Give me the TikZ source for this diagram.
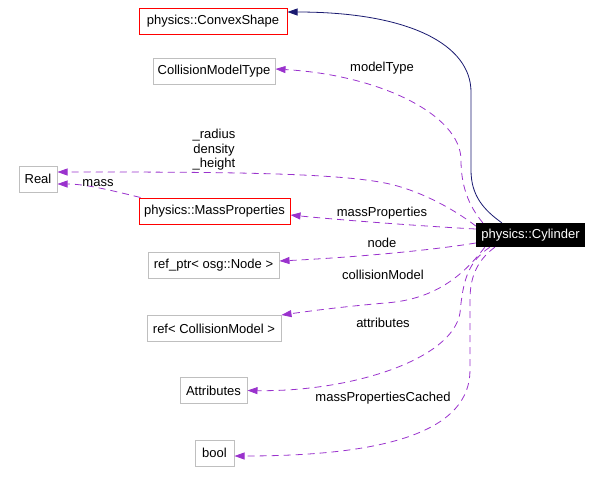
\documentclass[tikz,border=0pt]{standalone}
\usepackage{fontspec}
\setmainfont{Liberation Sans}
\usetikzlibrary{arrows.meta}
\definecolor{inherit}{HTML}{191970}
\definecolor{usage}{HTML}{9A32CD}
\definecolor{boxgray}{HTML}{BFBFBF}
\tikzset{
  member/.style={draw=boxgray, line width=1pt, minimum height=26, inner sep=0pt, font=\fontsize{13}{14.5}\selectfont},
  docclass/.style={member, draw=red},
  current/.style={fill=black, text=white, minimum height=24, inner sep=0pt, font=\fontsize{13}{14.5}\selectfont},
  uses/.style={usage, line width=0.8pt, dash pattern=on 7pt off 5pt, -{Triangle[length=10pt,width=7pt]}},
  derives/.style={inherit, line width=0.8pt, -{Triangle[length=10pt,width=7pt]}},
  lbl/.style={font=\fontsize{13}{14.5}\selectfont, inner sep=0pt, align=center}
}
\begin{document}
\begin{tikzpicture}[x=1pt, y=-1pt]
  \useasboundingbox (0,0) rectangle (603,483);

  % Clases
  \node[docclass, minimum width=148] (convex) at (213,21) {physics::ConvexShape};
  \node[member, minimum width=122] (cmtype) at (214,71) {CollisionModelType};
  \node[member, minimum width=38] (real) at (38,179) {Real};
  \node[docclass, minimum width=151] (massprop) at (214.5,211) {physics::MassProperties};
  \node[current, minimum width=109] (cyl) at (530.5,235) {physics::Cylinder};
  \node[member, minimum width=131] (refnode) at (213.5,265) {ref\_ptr< osg::Node >};
  \node[member, minimum width=134] (refcm) at (214,328.5) {ref< CollisionModel >};
  \node[member, minimum width=67] (attrs) at (213.5,390.5) {Attributes};
  \node[member, minimum width=39] (boolt) at (214.5,453) {bool};

  % Herencia
  \draw[derives] ([xshift=26]cyl.north west) .. controls (484,210) and (471,196) .. (471,170)
    -- (471,92) .. controls (471,45) and (410,12) .. ([yshift=9]convex.east);

  % Miembros
  \draw[uses] ([xshift=7]cyl.north west) .. controls (468,205) and (461,185) .. (461,160)
    .. controls (461,115) and (380,75) .. ([yshift=2]cmtype.east);
  \draw[uses] ([yshift=9]cyl.west) .. controls (455,210) and (420,190) .. (385,183)
    .. controls (330,172) and (200,172) .. ([yshift=7]real.east);
  \draw[uses] ([xshift=2]massprop.north west) .. controls (110,190) and (85,184) .. ([yshift=-5]real.east);
  \draw[uses] ([yshift=6]cyl.west) .. controls (420,226) and (340,220) .. ([yshift=-4]massprop.east);
  \draw[uses] ([yshift=-8]cyl.west) .. controls (420,252) and (340,258) .. ([yshift=4]refnode.east);
  \draw[uses] ([xshift=9]cyl.south west) .. controls (460,280) and (430,300) .. (385,303)
    .. controls (340,307) and (310,311) .. (refcm.north east);
  \draw[uses] ([xshift=14]cyl.south west) .. controls (468,262) and (463,280) .. (460,313)
    .. controls (452,360) and (350,392) .. (attrs.east);
  \draw[uses] ([xshift=19]cyl.south west) .. controls (475,262) and (470,280) .. (470,300)
    -- (470,370) .. controls (470,430) and (390,456) .. ([yshift=-3]boolt.east);

  % Etiquetas
  \node[lbl] (lmodeltype) at (382,68) {modelType};
  \node[lbl] (lreal) at (214,150) {\_radius\\density\\\_height};
  \node[lbl] (lmass) at (98,183) {mass};
  \node[lbl] (lmassprop) at (382,213) {massProperties};
  \node[lbl] (lnode) at (382,243) {node};
  \node[lbl] (lcollision) at (383,275) {collisionModel};
  \node[lbl] (lattrs) at (383,323) {attributes};
  \node[lbl] (lcached) at (383,398) {massPropertiesCached};
\end{tikzpicture}
\end{document}
